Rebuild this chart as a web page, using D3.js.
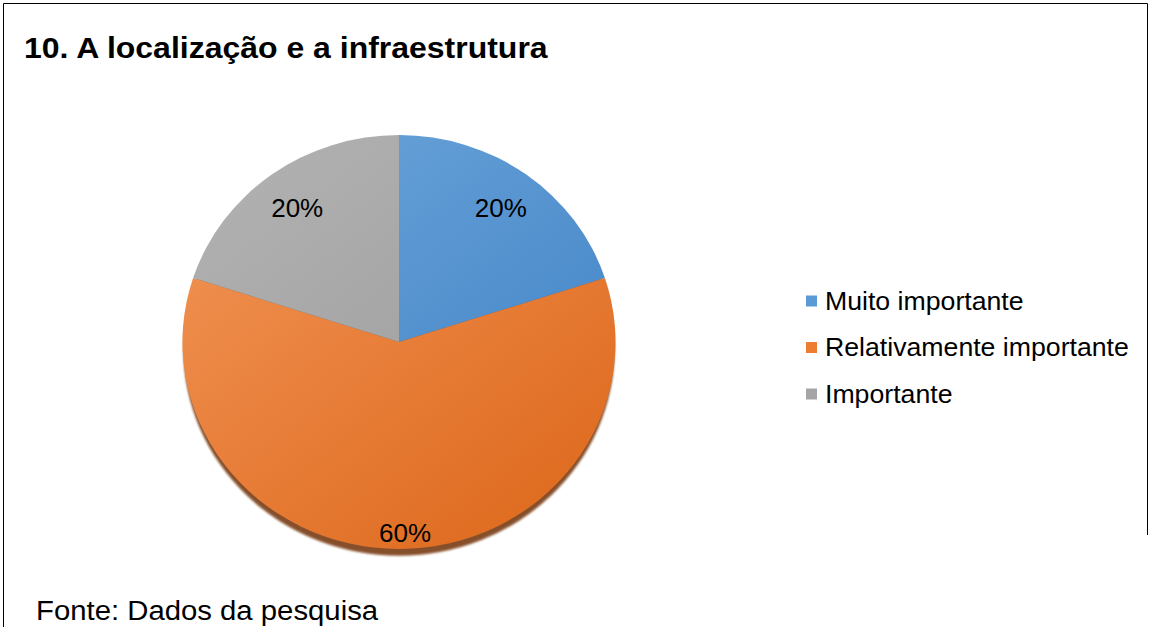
<!DOCTYPE html>
<html><head><meta charset="utf-8">
<script src="https://cdn.jsdelivr.net/npm/d3@7"></script>
<style>html,body{margin:0;padding:0;background:#fff;}svg{display:block;}</style>
</head><body>
<script>
const title = "10. A localização e a infraestrutura";
const source = "Fonte: Dados da pesquisa";
const categories = ["Muito importante", "Relativamente importante", "Importante"];
const values = [20, 60, 20];
const colorsLight = ["#6ea6db", "#f3975a", "#b3b3b3"];
const colorsDark = ["#3f82c5", "#de6a1e", "#9a9a9a"];
const legendColors = ["#5b9bd5", "#ed7d31", "#a5a5a5"];

const W = 1151, H = 627;
const FONT = "Liberation Sans, Arial, sans-serif";
const svg = d3.select("body").append("svg").attr("width", W).attr("height", H);
const defs = svg.append("defs");

// frame
svg.append("path").attr("d", `M3.5,627 L3.5,3.5 L1147.5,3.5 L1147.5,535`)
  .attr("fill", "none").attr("stroke", "#000").attr("stroke-width", 1);

svg.append("text").attr("x", 24).attr("y", 58)
  .attr("font-family", FONT).attr("font-weight", "bold")
  .attr("font-size", 30).attr("fill", "#000")
  .attr("transform", "translate(24,58) scale(1.066,1) translate(-24,-58)")
  .text(title);

const cx = 399, cy = 342, rx = 216.5, ry = 207;
const pie = d3.pie().value(d => d).sort(null);
const arcs = pie(values);
const arc = d3.arc().innerRadius(0).outerRadius(rx);

arcs.forEach((a, i) => {
  const g = defs.append("linearGradient").attr("id", "g" + i)
    .attr("gradientUnits", "userSpaceOnUse")
    .attr("x1", -rx).attr("y1", -rx).attr("x2", rx * 0.6).attr("y2", rx);
  g.append("stop").attr("offset", 0).attr("stop-color", colorsLight[i]);
  g.append("stop").attr("offset", 1).attr("stop-color", colorsDark[i]);
});
const blur = defs.append("filter").attr("id", "blur").attr("x", "-10%").attr("y", "-10%").attr("width", "120%").attr("height", "120%");
blur.append("feGaussianBlur").attr("stdDeviation", 1);

const gp = svg.append("g").attr("transform", `translate(${cx},${cy}) scale(1,${ry / rx})`);
gp.append("circle").attr("cx", 0).attr("cy", 8).attr("r", rx - 1)
  .attr("fill", "#7a3d12").attr("opacity", 0.9).attr("filter", "url(#blur)");
gp.selectAll("path.slice").data(arcs).join("path").attr("class", "slice")
  .attr("d", arc).attr("fill", (d, i) => `url(#g${i})`);

// labels
const labelArc = d3.arc().innerRadius(rx).outerRadius(rx);
const labels = svg.append("g");
arcs.forEach((a, i) => {
  const c = labelArc.centroid(a);
  const k = i === 1 ? 0.92 : 0.8;
  const lx = cx + c[0] * k + (i === 1 ? 6 : 0);
  const ly = cy + c[1] * k * (ry / rx);
  labels.append("text").attr("x", lx).attr("y", ly).attr("dy", "0.35em")
    .attr("text-anchor", "middle")
    .attr("font-family", FONT).attr("font-size", 26)
    .attr("fill", "#000").text(a.data + "%");
});

// legend
const lg = svg.append("g");
categories.forEach((c, i) => {
  const y = 301 + i * 46.5;
  lg.append("rect").attr("x", 806).attr("y", y - 5.5).attr("width", 11).attr("height", 11)
    .attr("fill", legendColors[i]);
  lg.append("text").attr("x", 825).attr("y", y).attr("dy", "0.35em")
    .attr("font-family", FONT).attr("font-size", 25)
    .attr("transform", `translate(825,${y}) scale(1.067,1) translate(-825,${-y})`)
    .attr("fill", "#000").text(c);
});

svg.append("text").attr("x", 36).attr("y", 620)
  .attr("font-family", FONT).attr("font-size", 28)
  .attr("transform", "translate(36,620) scale(1.047,1) translate(-36,-620)")
  .attr("fill", "#000").text(source);
</script>
</body></html>
